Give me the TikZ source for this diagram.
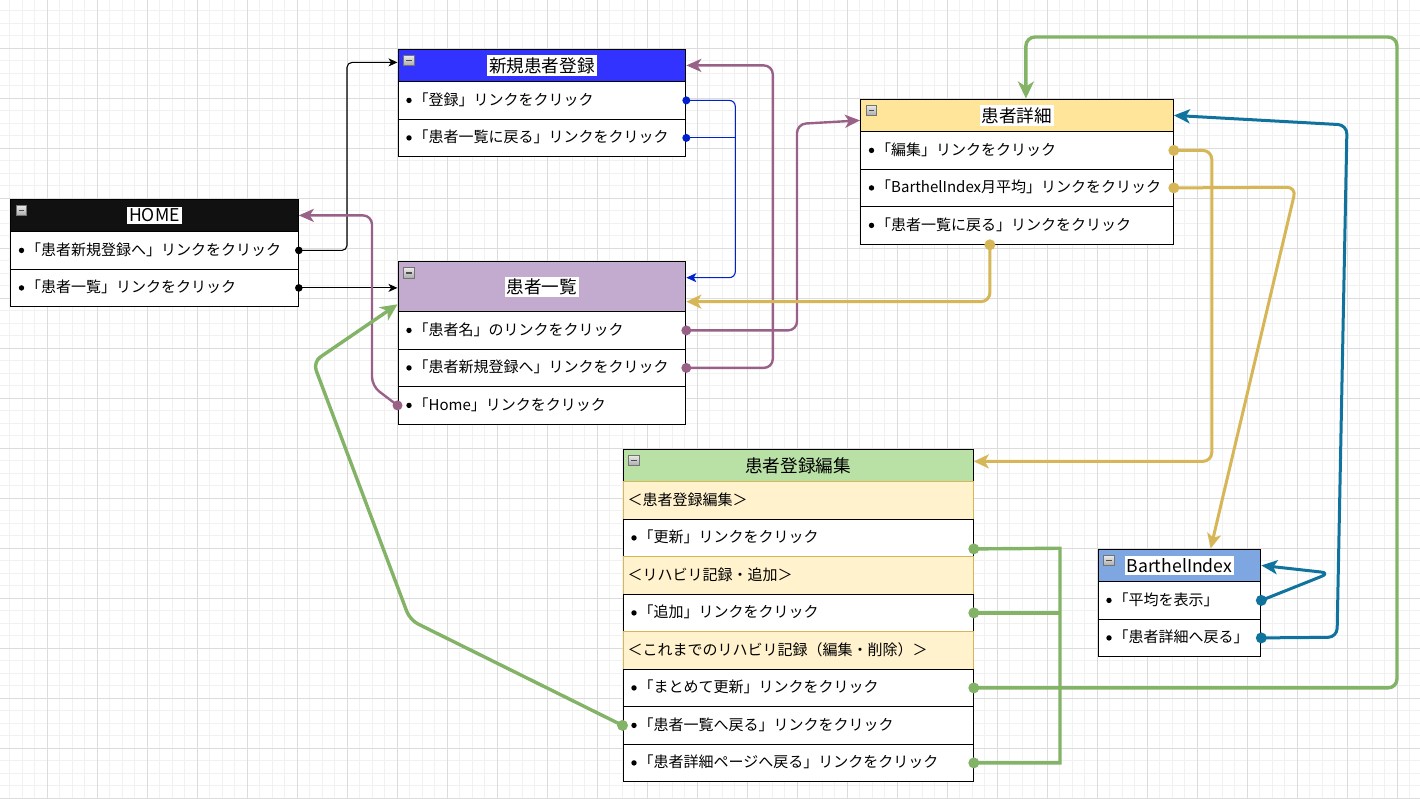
\documentclass[tikz,border=0pt]{standalone}
\usepackage{fontspec}
\setmainfont{Noto Sans CJK JP}
\usetikzlibrary{arrows.meta}

\definecolor{gridminor}{HTML}{F1F1F1}
\definecolor{gridmajor}{HTML}{DCDCDC}
\definecolor{homehead}{HTML}{111111}
\definecolor{newhead}{HTML}{3333FF}
\definecolor{listhead}{HTML}{C3ABD0}
\definecolor{detailhead}{HTML}{FFE599}
\definecolor{edithead}{HTML}{B9E0A5}
\definecolor{bihead}{HTML}{7EA6E0}
\definecolor{secfill}{HTML}{FFF2CC}
\definecolor{secline}{HTML}{D6B656}
\definecolor{linkblue}{HTML}{0022CC}
\definecolor{linkpurple}{HTML}{9A6188}
\definecolor{linkgold}{HTML}{D6B656}
\definecolor{linkteal}{HTML}{10739E}
\definecolor{linkgreen}{HTML}{82B366}

\tikzset{
  hdrbox/.style={draw=black, line width=1.3pt, anchor=north west, inner sep=0pt},
  rowbox/.style={draw=black, line width=1.3pt, fill=white, anchor=north west,
    inner sep=0pt, minimum height=37.5pt},
  secbox/.style={draw=secline, line width=1.1pt, fill=secfill, anchor=north west,
    inner sep=0pt, minimum height=37.5pt},
  rowtext/.style={anchor=west, inner sep=0pt, font=\fontsize{15}{17}\selectfont},
  titletext/.style={fill=white, inner xsep=2pt, inner ysep=2pt,
    font=\fontsize{17.6}{20}\selectfont},
  iconbox/.style={draw=black!55, line width=0.6pt, top color=white!85!gray, bottom color=gray!65},
  conn/.style={rounded corners=9pt, line join=round},
  blackline/.style={conn, rounded corners=5pt, draw=black, line width=1.1pt,
    -{Stealth[length=9pt,width=8pt,inset=2.5pt]}},
  blueline/.style={conn, rounded corners=6pt, draw=linkblue, line width=1.1pt,
    -{Stealth[length=10pt,width=9pt,inset=2.5pt]}},
  purpleline/.style={conn, draw=linkpurple, line width=2.4pt,
    -{Stealth[length=15pt,width=13pt,inset=4pt]}},
  goldline/.style={conn, draw=linkgold, line width=3pt,
    -{Stealth[length=15pt,width=14pt,inset=4pt]}},
  tealline/.style={conn, draw=linkteal, line width=3pt,
    -{Stealth[length=16pt,width=14pt,inset=4pt]}},
  greenline/.style={conn, draw=linkgreen, line width=3.4pt,
    -{Stealth[length=17pt,width=16pt,inset=5pt]}},
  greenbus/.style={draw=linkgreen, line width=3.4pt, line join=miter},
}

% header bar with its collapse icon: name, x, y, width, height, fill
\newcommand\diaghead[6]{%
  \node[hdrbox, fill=#6, minimum width=#4pt, minimum height=#5pt] (#1) at (#2,#3) {};
  \draw[iconbox] ({#2+6},{#3+6.5}) rectangle ++(10.5,10.5);
  \draw[line width=1.5pt, black!70] ({#2+8.5},{#3+11.75}) -- ++(5.5,0);
}
% bulleted link row: name, x, y, width, text
\newcommand\diagrow[5]{%
  \node[rowbox, minimum width=#4pt] (#1) at (#2,#3) {};
  \fill ([xshift=11.5pt]#1.west) circle (2.7);
  \node[rowtext] (#1t) at ([xshift=16pt,yshift=1pt]#1.west) {#5};
}
% section caption row: name, x, y, width, text
\newcommand\diagsec[5]{%
  \node[secbox, minimum width=#4pt] (#1) at (#2,#3) {};
  \node[rowtext] (#1t) at ([xshift=5pt,yshift=1pt]#1.west) {#5};
}

\begin{document}
\begin{tikzpicture}[x=1pt,y=-1pt]
\useasboundingbox (0,0) rectangle (1420,798);
\fill[white] (0,0) rectangle (1420,798);

% background grid
\foreach \i in {1,...,114} \draw[gridminor, line width=1pt] ({-2.7+12.5*\i},0) -- ({-2.7+12.5*\i},798);
\foreach \j in {1,...,64} \draw[gridminor, line width=1pt] (0,{-1.7+12.5*\j}) -- (1420,{-1.7+12.5*\j});
\foreach \i in {1,...,28} \draw[gridmajor, line width=0.9pt] ({-2.7+50*\i},0) -- ({-2.7+50*\i},798);
\foreach \j in {1,...,16} \draw[gridmajor, line width=0.9pt] (0,{-1.7+50*\j}) -- (1420,{-1.7+50*\j});

% HOME
\diaghead{hmh}{10}{198.5}{287.5}{32.5}{homehead}
\node[titletext] (hmht) at (hmh.center) {HOME};
\diagrow{hm1}{10}{231}{287.5}{「患者新規登録へ」リンクをクリック}
\diagrow{hm2}{10}{268.5}{287.5}{「患者一覧」リンクをクリック}

% 新規患者登録
\diaghead{nsh}{397.5}{48.5}{287.5}{32.5}{newhead}
\node[titletext] (nsht) at (nsh.center) {新規患者登録};
\diagrow{ns1}{397.5}{81}{287.5}{「登録」リンクをクリック}
\diagrow{ns2}{397.5}{118.5}{287.5}{「患者一覧に戻る」リンクをクリック}

% 患者一覧
\diaghead{plh}{397.5}{261}{287.5}{50}{listhead}
\node[titletext] (plht) at (plh.center) {患者一覧};
\diagrow{pl1}{397.5}{311}{287.5}{「患者名」のリンクをクリック}
\diagrow{pl2}{397.5}{348.5}{287.5}{「患者新規登録へ」リンクをクリック}
\diagrow{pl3}{397.5}{386}{287.5}{「Home」リンクをクリック}

% 患者詳細
\diaghead{pdh}{860}{98.5}{312.5}{32.5}{detailhead}
\node[titletext] (pdht) at (pdh.center) {患者詳細};
\diagrow{pd1}{860}{131}{312.5}{「編集」リンクをクリック}
\diagrow{pd2}{860}{168.5}{312.5}{「BarthelIndex月平均」リンクをクリック}
\diagrow{pd3}{860}{206}{312.5}{「患者一覧に戻る」リンクをクリック}

% 患者登録編集
\diaghead{edh}{622.5}{448.5}{350}{32.5}{edithead}
\node[titletext, fill=none] (edht) at (edh.center) {患者登録編集};
\diagsec{es1}{622.5}{481}{350}{＜患者登録編集＞}
\diagrow{e1}{622.5}{518.5}{350}{「更新」リンクをクリック}
\diagsec{es2}{622.5}{556}{350}{＜リハビリ記録・追加＞}
\diagrow{e2}{622.5}{593.5}{350}{「追加」リンクをクリック}
\diagsec{es3}{622.5}{631}{350}{＜これまでのリハビリ記録（編集・削除）＞}
\diagrow{e3}{622.5}{668.5}{350}{「まとめて更新」リンクをクリック}
\diagrow{e4}{622.5}{706}{350}{「患者一覧へ戻る」リンクをクリック}
\diagrow{e5}{622.5}{743.5}{350}{「患者詳細ページへ戻る」リンクをクリック}

% BarthelIndex
\diaghead{bh}{1097.5}{548.5}{162.5}{32.5}{bihead}
\node[titletext] (bht) at (bh.center) {BarthelIndex};
\diagrow{b1}{1097.5}{581}{162.5}{「平均を表示」}
\diagrow{b2}{1097.5}{618.5}{162.5}{「患者詳細へ戻る」}

% links from HOME
\draw[blackline] (hm1.east) -| ([xshift=-50.5pt,yshift=3pt]nsh.west) -- ([yshift=3pt]nsh.west);
\draw[blackline] (hm2.east) -- (hm2.east -| plh.west);
\fill (hm1.east) circle (3.8);
\fill (hm2.east) circle (3.8);

% links from 新規患者登録
\draw[blueline] (ns1.east) -| ([xshift=49pt,yshift=9pt]plh.east) -- ([yshift=9pt]plh.east);
\draw[draw=linkblue, line width=1.1pt] (ns2.east) -- ++(49,0);
\fill[linkblue] (ns1.east) circle (4);
\fill[linkblue] (ns2.east) circle (4);

% links from 患者一覧
\draw[purpleline] (pl1.east) -| (797,124) -- ([yshift=-5pt]pdh.west);
\draw[purpleline] (pl2.east) -| ([xshift=86.5pt]nsh.east) -- (nsh.east);
\draw[purpleline] (pl3.west) -- (372,386) |- (hmh.east);
\fill[linkpurple] (pl1.east) circle (5);
\fill[linkpurple] (pl2.east) circle (5);
\fill[linkpurple] (pl3.west) circle (5);

% links from 患者詳細
\draw[goldline] ([xshift=-27pt]pd3.south) |- ([yshift=-15pt]plh.east);
\draw[goldline] (pd1.east) -| ([xshift=238pt,yshift=4pt]edh.east) -- ([yshift=4pt]edh.east);
\draw[goldline] (pd2.east) -- (1296,187.25) -- ([xshift=31.25pt]bh.north);
\fill[linkgold] ([xshift=-27pt]pd3.south) circle (5.5);
\fill[linkgold] (pd1.east) circle (5.5);
\fill[linkgold] (pd2.east) circle (5.5);

% links from BarthelIndex
\draw[tealline] (b1.east) -- (1330,573) -- (bh.east);
\draw[tealline] (b2.east) -- (1337,637.25) -- (1347,125) -- (pdh.east);
\fill[linkteal] (b1.east) circle (5.5);
\fill[linkteal] (b2.east) circle (5.5);

% links from 患者登録編集
\draw[greenbus] ([yshift=-11pt]e1.east) -- (1060,548.25) |- (e5.east);
\draw[greenbus] (e2.east) -- ++(87.5,0);
\draw[greenline] (e3.east) -| (1397,37) -| ([xshift=9pt]pdh.north);
\draw[greenline] (e4.west) -- (410,620) -- (313,362) -- ([yshift=8pt]plh.south west);
\fill[linkgreen] ([yshift=-11pt]e1.east) circle (5.5);
\fill[linkgreen] (e2.east) circle (5.5);
\fill[linkgreen] (e3.east) circle (5.5);
\fill[linkgreen] (e4.west) circle (5.5);
\fill[linkgreen] (e5.east) circle (5.5);
\end{tikzpicture}
\end{document}
